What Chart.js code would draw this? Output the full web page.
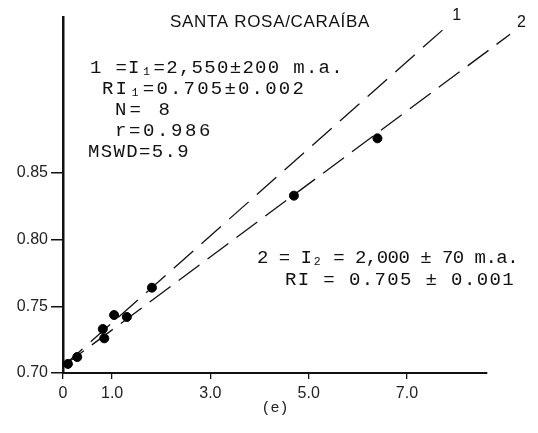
<!DOCTYPE html>
<html>
<head>
<meta charset="utf-8">
<script src="https://cdn.jsdelivr.net/npm/chart.js@4/dist/chart.umd.min.js"></script>
<style>
html,body{margin:0;padding:0;background:#fff;}
#wrap{width:538px;height:433px;position:relative;}
</style>
</head>
<body>
<div id="wrap"><canvas id="c" width="538" height="433"></canvas></div>
<script>
// ---- data ----
const sampleX = [0.10, 0.29, 0.81, 0.84, 1.04, 1.30, 1.81, 4.70, 6.40];
const sampleY = [0.7068, 0.712, 0.733, 0.726, 0.7435, 0.742, 0.764, 0.833, 0.876];
const iso1X = [0, 7.78];
const iso1Y = [0.705, 0.959];
const iso2X = [0, 9.10];
const iso2Y = [0.705, 0.954];
const xTicks = [0, 1, 3, 5, 7];
const xTickLabels = ['0', '1.0', '3.0', '5.0', '7.0'];
const yTicks = [0.70, 0.75, 0.80, 0.85];
const yTickLabels = ['0.70', '0.75', '0.80', '0.85'];
const xTitle = '(e)';
const chartTitle = 'SANTA ROSA/CARAÍBA';
const iso1Text = ['1 =I\u2081=2,550\u00b1200 m.a.', 'RI\u2081=0.705\u00b10.002', 'N= 8', 'r=0.986', 'MSWD=5.9'];
const iso2Text = ['2 = I\u2082 = 2,000 \u00b1 70 m.a.', 'RI = 0.705 \u00b1 0.001'];
const lineLabels = ['1', '2'];

const pts = sampleX.map((x, i) => ({x, y: sampleY[i]}));
const l1 = iso1X.map((x, i) => ({x, y: iso1Y[i]}));
const l2 = iso2X.map((x, i) => ({x, y: iso2Y[i]}));

function fitText(ctx, text, x, y, w, font) {
  ctx.save();
  ctx.font = font;
  ctx.letterSpacing = '0px';
  const m = ctx.measureText(text).width;
  const ls = (w - m) / Math.max(1, text.length);
  ctx.letterSpacing = ls + 'px';
  ctx.textAlign = 'left';
  ctx.textBaseline = 'middle';
  ctx.fillStyle = '#111';
  ctx.fillText(text, x, y);
  ctx.restore();
}

const notesPlugin = {
  id: 'notes',
  afterDraw(chart) {
    const ctx = chart.ctx;
    const mono = '"Liberation Mono", "DejaVu Sans Mono", monospace';
    fitText(ctx, chartTitle, 170, 22, 200, '17px "Liberation Sans", Arial, sans-serif');
    const blk1 = [[90, 68, 254], [102, 89, 204], [115, 110, 58], [115, 131, 98], [88, 152, 102]];
    iso1Text.forEach((t, i) => fitText(ctx, t, blk1[i][0], blk1[i][1], blk1[i][2], '19px ' + mono));
    const blk2 = [[257, 258, 261], [285, 280, 230]];
    iso2Text.forEach((t, i) => fitText(ctx, t, blk2[i][0], blk2[i][1], blk2[i][2], '19px ' + mono));
    // line end labels
    const xs = chart.scales.x, ys = chart.scales.y;
    const ends = [l1[l1.length - 1], l2[l2.length - 1]];
    ctx.save();
    ctx.font = '16px "Liberation Sans", Arial, sans-serif';
    ctx.fillStyle = '#111';
    ctx.textBaseline = 'middle';
    ctx.textAlign = 'left';
    ends.forEach((p, i) => {
      ctx.fillText(lineLabels[i], xs.getPixelForValue(p.x) + 7, ys.getPixelForValue(p.y) - 12);
    });
    ctx.restore();
  }
};

new Chart(document.getElementById('c'), {
  type: 'scatter',
  data: {
    datasets: [
      {data: pts, backgroundColor: '#000', borderColor: '#000', pointRadius: 4.5, pointHoverRadius: 4.5, showLine: false},
      {data: l1, showLine: true, borderColor: '#111', borderWidth: 1.3, borderDash: [26, 11], pointRadius: 0, clip: false},
      {data: l2, showLine: true, borderColor: '#111', borderWidth: 1.3, borderDash: [26, 10], pointRadius: 0, clip: false}
    ]
  },
  options: {
    responsive: false,
    animation: false,
    events: [],
    layout: {padding: {left: 0, right: 51, top: 17, bottom: 0}},
    plugins: {legend: {display: false}, tooltip: {enabled: false}, title: {display: false}},
    scales: {
      x: {
        type: 'linear', min: 0, max: 8.63,
        afterBuildTicks: s => { s.ticks = xTicks.map(v => ({value: v})); },
        afterFit: s => { s.height = 60; },
        ticks: {
          autoSkip: false, maxRotation: 0, padding: 5,
          color: '#222', font: {family: '"Liberation Sans", Arial, sans-serif', size: 16},
          callback: v => { const i = xTicks.indexOf(v); return i >= 0 ? xTickLabels[i] : ''; }
        },
        grid: {display: true, drawOnChartArea: false, drawTicks: true, tickLength: 6, tickColor: '#111', lineWidth: 1.3},
        border: {display: true, color: '#111', width: 2},
        title: {display: true, text: xTitle, color: '#222', font: {family: '"Liberation Mono", monospace', size: 15}, padding: {top: 0, bottom: 16}}
      },
      y: {
        type: 'linear', min: 0.70, max: 0.967,
        afterBuildTicks: s => { s.ticks = yTicks.map(v => ({value: v})); },
        afterFit: s => { s.width = 63; },
        ticks: {
          autoSkip: false, padding: 3,
          color: '#222', font: {family: '"Liberation Sans", Arial, sans-serif', size: 16},
          callback: v => { const i = yTicks.findIndex(t => Math.abs(t - v) < 1e-9); return i >= 0 ? yTickLabels[i] : ''; }
        },
        grid: {display: true, drawOnChartArea: false, drawTicks: true, tickLength: 12, tickColor: '#111', lineWidth: 1.5},
        border: {display: true, color: '#111', width: 2.5}
      }
    }
  },
  plugins: [notesPlugin]
});
</script>
</body>
</html>
